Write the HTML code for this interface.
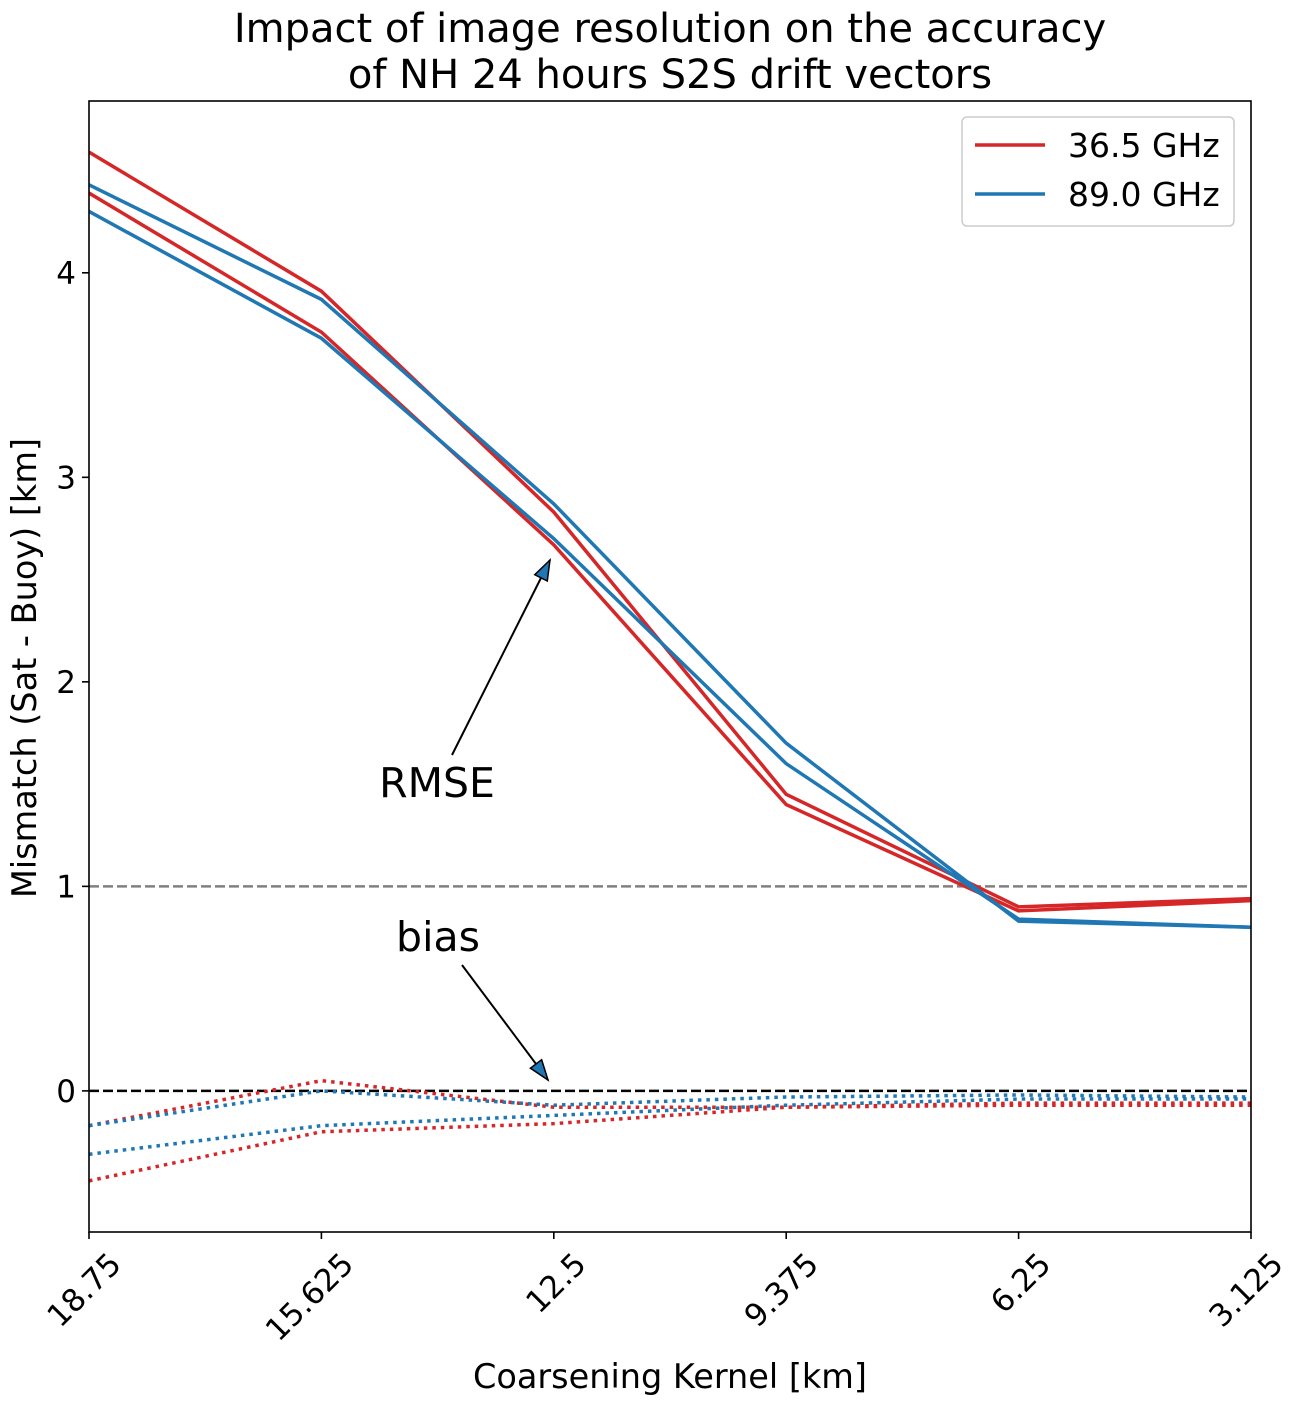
<!DOCTYPE html>
<html><head><meta charset="utf-8"><style>
body{margin:0;background:#fff;}
text{font-family:"DejaVu Sans","Liberation Sans",sans-serif;}
</style></head><body>
<svg id="chart" width="1300" height="1406" xmlns="http://www.w3.org/2000/svg">
<text x="670" y="42" font-size="40" text-anchor="middle">Impact of image resolution on the accuracy</text>
<text x="670" y="88" font-size="40" text-anchor="middle">of NH 24 hours S2S drift vectors</text>
<g id="plot"></g>
</svg>
<script>
const categories=["18.75","15.625","12.5","9.375","6.25","3.125"];
const yTicks=[0,1,2,3,4];
const rmseRedA=[4.59,3.91,2.83,1.45,0.90,0.94];
const rmseRedB=[4.39,3.71,2.67,1.40,0.88,0.93];
const rmseBlueA=[4.43,3.87,2.87,1.70,0.83,0.80];
const rmseBlueB=[4.30,3.68,2.70,1.60,0.84,0.80];
const biasRedA=[-0.17,0.05,-0.08,-0.08,-0.07,-0.07];
const biasRedB=[-0.44,-0.20,-0.16,-0.08,-0.06,-0.06];
const biasBlueA=[-0.17,0.0,-0.07,-0.03,-0.02,-0.03];
const biasBlueB=[-0.31,-0.17,-0.12,-0.07,-0.04,-0.04];

const L=89,R=1251,T=101,B=1232,yMin=-0.69,yMax=4.84;
const RED="#d62728",BLUE="#1f77b4";
const x=i=>L+i*(R-L)/(categories.length-1);
const y=v=>B-(v-yMin)/(yMax-yMin)*(B-T);
const NS="http://www.w3.org/2000/svg";
const g=document.getElementById('plot');
function mk(tag,attrs,parent){const e=document.createElementNS(NS,tag);for(const k in attrs)e.setAttribute(k,attrs[k]);(parent||g).appendChild(e);return e;}

const clip=mk('clipPath',{id:'cp'});mk('rect',{x:L,y:T,width:R-L,height:B-T},clip);
let e=mk('line',{x1:L,x2:R,y1:y(1),y2:y(1),stroke:'#808080','stroke-width':2.5,'stroke-dasharray':'10,4'});


e=mk('line',{x1:L,x2:R,y1:y(0),y2:y(0),stroke:'#000','stroke-width':2.5,'stroke-dasharray':'10,4'});



function series(arr,color,dotted,name){
  const p=mk('polyline',{points:arr.map((v,i)=>x(i)+','+y(v)).join(' '),fill:'none',stroke:color,'stroke-width':3.5,'clip-path':'url(#cp)'});
  if(dotted)p.setAttribute('stroke-dasharray','3.5,5');
  
  
}
series(rmseRedA,RED,false,'rmse-36-5-a');
series(rmseRedB,RED,false,'rmse-36-5-b');
series(rmseBlueA,BLUE,false,'rmse-89-a');
series(rmseBlueB,BLUE,false,'rmse-89-b');
series(biasRedA,RED,true,'bias-36-5-a');
series(biasRedB,RED,true,'bias-36-5-b');
series(biasBlueA,BLUE,true,'bias-89-a');
series(biasBlueB,BLUE,true,'bias-89-b');

e=mk('rect',{x:L,y:T,width:R-L,height:B-T,fill:'none',stroke:'#000','stroke-width':1.6});



yTicks.forEach(t=>{
  mk('line',{x1:L-7,x2:L,y1:y(t),y2:y(t),stroke:'#000','stroke-width':1.6});
  const tx=mk('text',{x:L-13,y:y(t)+11,'font-size':31,'text-anchor':'end'});tx.textContent=t;
  
  
});
categories.forEach((c,i)=>{
  mk('line',{x1:x(i),x2:x(i),y1:B,y2:B+7,stroke:'#000','stroke-width':1.6});
  const ax=x(i)+34,ay=B+34;
  const tx=mk('text',{x:ax,y:ay,'font-size':31,'text-anchor':'end',transform:`rotate(-45 ${ax} ${ay})`});tx.textContent=c;
  
  
});
e=mk('text',{x:670,y:1388,'font-size':33.5,'text-anchor':'middle'});e.textContent='Coarsening Kernel [km]';


e=mk('text',{x:36,y:668,'font-size':33.5,'text-anchor':'middle',transform:'rotate(-90 36 668)'});e.textContent='Mismatch (Sat - Buoy) [km]';



function arrow(x1,y1,x2,y2,name){
  mk('line',{x1,y1,x2,y2,stroke:'#000','stroke-width':2});
  const a=Math.atan2(y2-y1,x2-x1),len=20,w=7;
  const bx=x2-len*Math.cos(a),by=y2-len*Math.sin(a);
  const pts=[[x2,y2],[bx+w*Math.sin(a),by-w*Math.cos(a)],[bx-w*Math.sin(a),by+w*Math.cos(a)]];
  const p=mk('polygon',{points:pts.map(q=>q.join(',')).join(' '),fill:BLUE,stroke:'#000','stroke-width':1.5});
  
  
}
arrow(452,755,550,560,'rmse-arrow');
arrow(462,965,548,1080,'bias-arrow');
e=mk('text',{x:437,y:797,'font-size':41,'text-anchor':'middle'});e.textContent='RMSE';


e=mk('text',{x:438,y:951,'font-size':41,'text-anchor':'middle'});e.textContent='bias';



const lg=mk('g',{});


mk('rect',{x:962,y:117,width:272,height:109,rx:5,fill:'#fff',stroke:'#ccc','stroke-width':1.5},lg);
[[RED,'36.5 GHz',145],[BLUE,'89.0 GHz',194]].forEach(([c,t,yy])=>{
  mk('line',{x1:975,x2:1045,y1:yy,y2:yy,stroke:c,'stroke-width':3.5},lg);
  const tx=mk('text',{x:1068,y:yy+12,'font-size':33},lg);tx.textContent=t;
  
  
});
</script>
</body></html>
